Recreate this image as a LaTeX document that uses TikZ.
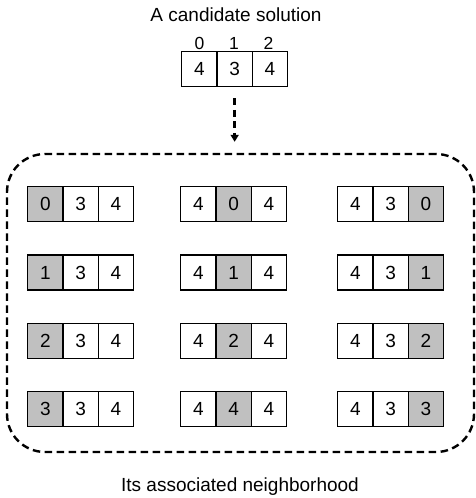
\documentclass[tikz,border=0pt]{standalone}
\usepackage{fontspec}
\setmainfont{Liberation Sans}
\usetikzlibrary{arrows.meta}
\definecolor{cellgray}{RGB}{192,192,192}
\begin{document}
\begin{tikzpicture}[x=1pt,y=-1pt,
  cell/.style={draw=black, line width=1.3pt, minimum width=35.33pt, minimum height=35pt, inner sep=0pt, anchor=north west, font=\fontsize{19}{22}\selectfont, fill=white},
  hl/.style={cell, fill=cellgray},
  idx/.style={font=\fontsize{17.5}{20}\selectfont, inner sep=0pt, anchor=base},
  caption/.style={font=\fontsize{19}{22}\selectfont, inner sep=0pt, anchor=base},
  dashbox/.style={draw, line width=2.4pt, dash pattern=on 7.5pt off 4.5pt, rounded corners=38pt, inner sep=0pt},
  dasharrow/.style={line width=2.4pt, dash pattern=on 7pt off 4.5pt, -{Triangle[length=7pt,width=8pt]}}
]
\useasboundingbox (0,0) rectangle (476,498);

% title
\node[caption] (title) at (236,21) {A candidate solution};

% candidate solution
\node[cell] (t0) at (181,51) {4};
\node[cell] (t1) at (216.33,51) {3};
\node[cell] (t2) at (251.67,51) {4};
\node[idx] (i0) at (199.5,49.3) {0};
\node[idx] (i1) at (234,49.3) {1};
\node[idx] (i2) at (268.5,49.3) {2};

% neighborhood box
\node[dashbox, minimum width=467pt, minimum height=298pt] (hood) at (240.5,303) {};
\draw[dasharrow, shorten <=11pt, shorten >=11pt] (t1.south) -- (t1.south |- hood.north);

% neighbours
\foreach \r/\a/\b/\c in {0/0/0/0,1/1/1/1,2/2/2/2,3/3/4/3}{
  \pgfmathsetmacro{\yy}{186+\r*68.33}
  % column 0
  \node[hl]   (n\r-0-0) at (27,\yy) {\a};
  \node[cell] (n\r-0-1) at (62.33,\yy) {3};
  \node[cell] (n\r-0-2) at (97.67,\yy) {4};
  % column 1
  \node[cell] (n\r-1-0) at (180,\yy) {4};
  \node[hl]   (n\r-1-1) at (215.33,\yy) {\b};
  \node[cell] (n\r-1-2) at (250.67,\yy) {4};
  % column 2
  \node[cell] (n\r-2-0) at (337,\yy) {4};
  \node[cell] (n\r-2-1) at (372.33,\yy) {3};
  \node[hl]   (n\r-2-2) at (407.67,\yy) {\c};
}

% caption
\node[caption] (cap) at (240,491) {Its associated neighborhood};
\end{tikzpicture}
\end{document}
